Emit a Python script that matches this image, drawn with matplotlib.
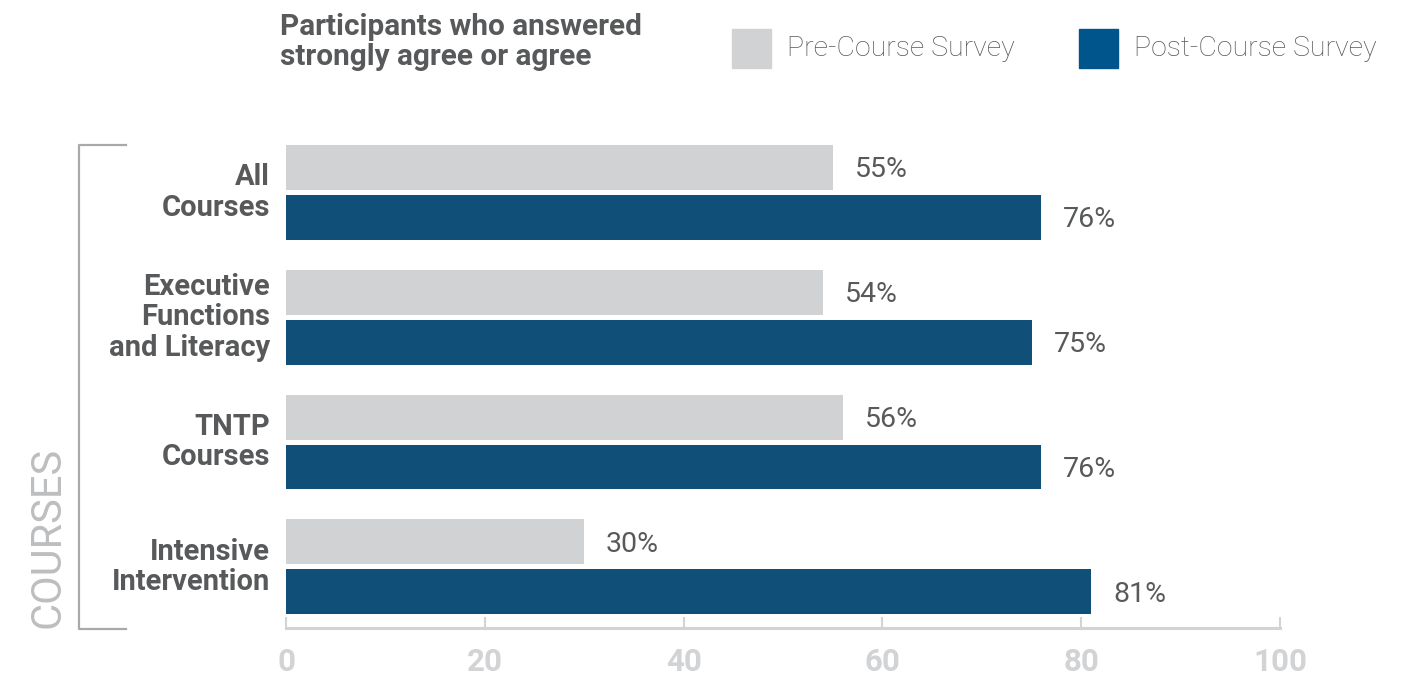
import numpy as np
import matplotlib.pyplot as plt
from matplotlib.patches import Rectangle
from matplotlib.lines import Line2D

# Survey results (% who answered strongly agree or agree)
courses = ['All\nCourses', 'Executive\nFunctions\nand Literacy', 'TNTP\nCourses', 'Intensive\nIntervention']
pre_course = [55, 54, 56, 30]
post_course = [76, 75, 76, 81]
x_ticks = [0, 20, 40, 60, 80, 100]

pre_color = '#d1d2d4'
post_color = '#0f4f78'
text_gray = '#58595b'
axis_gray = '#d2d3d5'

fig = plt.figure(figsize=(14.11, 6.77), dpi=100)
ax = fig.add_axes([0.2027, 0.0724, 0.7045, 0.7356])

y = np.arange(len(courses))
bar_h = 0.36
ax.barh(y - 0.2, pre_course, height=bar_h, color=pre_color)
ax.barh(y + 0.2, post_course, height=bar_h, color=post_color)

# value labels to the right of each bar
for yi, v in zip(y, pre_course):
    ax.text(v + 2.2, yi - 0.18, f'{v}%', va='center', ha='left',
            fontsize=20.5, color=text_gray, family='Roboto')
for yi, v in zip(y, post_course):
    ax.text(v + 2.2, yi + 0.22, f'{v}%', va='center', ha='left',
            fontsize=20.5, color=text_gray, family='Roboto')

ax.set_xlim(0, 100)
ax.set_ylim(3.49, -0.5)
ax.set_yticks([])
ax.set_xticks(x_ticks)
ax.set_xticklabels([str(t) for t in x_ticks], family='Roboto',
                   fontweight='bold', fontsize=22.5, color=axis_gray)
ax.tick_params(axis='x', direction='in', length=8, width=1.5, color=axis_gray, pad=14)
for side in ['left', 'top', 'right']:
    ax.spines[side].set_visible(False)
ax.spines['bottom'].set_color(axis_gray)
ax.spines['bottom'].set_linewidth(2.2)

# category labels
for yi, name in zip(y, courses):
    ax.text(-1.6, yi, name, ha='right', va='center', fontsize=21,
            fontweight='bold', color=text_gray, family='Roboto', linespacing=1.12)

# bracket around the category labels
bx0, bx1 = 79 / 1411, 126 / 1411
by0, by1 = 1 - 629 / 677, 1 - 145 / 677
fig.add_artist(Line2D([bx1, bx0, bx0, bx1], [by1, by1, by0, by0],
                      color='#a7a9ac', lw=1.6, transform=fig.transFigure))
fig.text(48 / 1411, 1 - 537 / 677, 'COURSES', rotation=90, ha='center', va='center',
         fontsize=30, color='#bcbec0', family='Roboto')

# title
fig.text(280 / 1411, 1 - 42 / 677, 'Participants who answered\nstrongly agree or agree',
         ha='left', va='center', fontsize=21.4, fontweight='bold', color=text_gray,
         family='Roboto', linespacing=1.1)

# legend
for x0, label, c in [(732, 'Pre-Course Survey', pre_color),
                     (1079, 'Post-Course Survey', '#00558c')]:
    fig.add_artist(Rectangle((x0 / 1411, 1 - 68 / 677), 39 / 1411, 39 / 677,
                             color=c, transform=fig.transFigure))
    fig.text((x0 + 55) / 1411, 1 - 49 / 677, label, ha='left', va='center',
             fontsize=20.5, color=text_gray, family='Roboto', fontweight='light')

fig.savefig('out.png', dpi=100)
